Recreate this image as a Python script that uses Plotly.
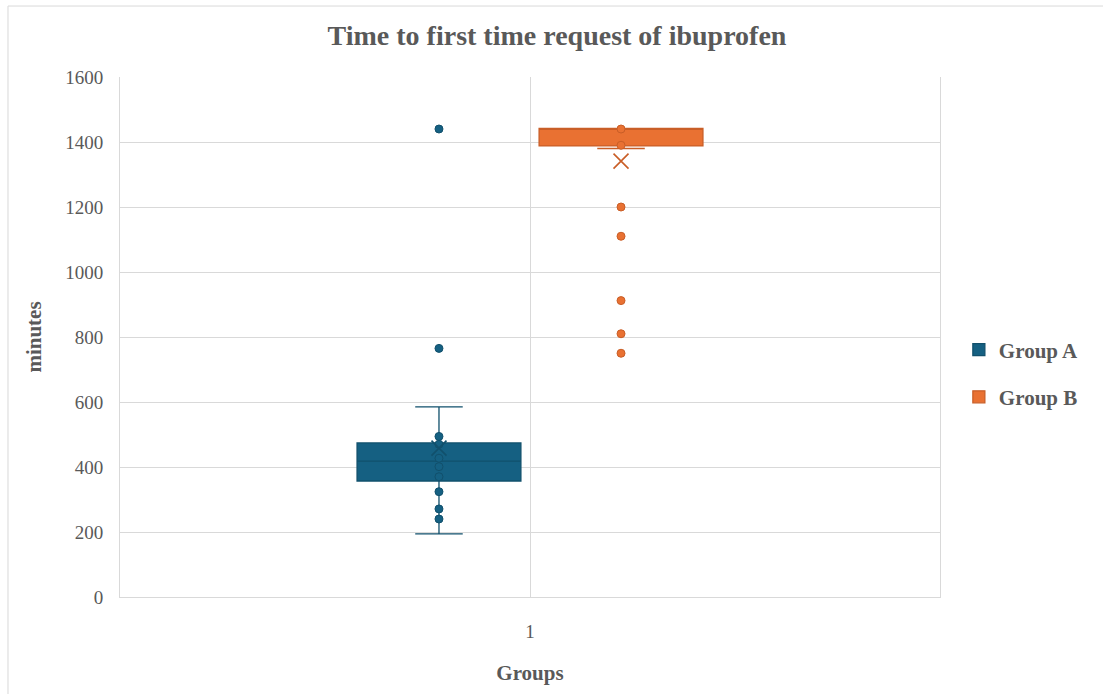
import plotly.graph_objects as go

category = ["1"]
groups = ["Group A", "Group B"]

# box statistics (minutes)
q1 = [357, 1388]
median = [418, 1440]
q3 = [474, 1442]
lower_whisker = [194, 1380]
upper_whisker = [585, 1440]
means = [458, 1341]

# individual points shown
points_a = [1440, 765, 494, 470, 427, 401, 370, 324, 271, 240]
points_b = [1440, 1390, 1200, 1110, 912, 810, 750]
points = [points_a, points_b]

fills = ["#156082", "#E97132"]
edges = ["#11506c", "#c95e27"]

FONT = "Liberation Serif"
GREY = "#595959"

fig = go.Figure()
for i, g in enumerate(groups):
    og = g
    fig.add_trace(go.Box(
        name=g, x=category, q1=[q1[i]], median=[median[i]], q3=[q3[i]],
        lowerfence=[lower_whisker[i]], upperfence=[upper_whisker[i]],
        offsetgroup=og, legendgroup=g, showlegend=True,
        fillcolor=fills[i], line=dict(color=edges[i], width=1.3),
        whiskerwidth=0.29, boxpoints=False, hoverinfo="skip"))
    fig.add_trace(go.Box(
        name=g, x=category * len(points[i]), y=points[i],
        offsetgroup=og, legendgroup=g, showlegend=False,
        fillcolor="rgba(0,0,0,0)", line=dict(color="rgba(0,0,0,0)", width=0),
        boxpoints="all", jitter=0, pointpos=0,
        marker=dict(color=fills[i], size=8, line=dict(color=edges[i], width=1)),
        hoverinfo="y"))
    fig.add_trace(go.Box(
        name=g, x=category, y=[means[i]],
        offsetgroup=og, legendgroup=g, showlegend=False,
        fillcolor="rgba(0,0,0,0)", line=dict(color="rgba(0,0,0,0)", width=0),
        boxpoints="all", jitter=0, pointpos=0,
        marker=dict(symbol="x-thin-open", size=15, color=edges[i],
                    line=dict(color=edges[i], width=1.6)),
        hoverinfo="y"))

fig.update_layout(
    width=1103, height=694,
    paper_bgcolor="white", plot_bgcolor="white",
    margin=dict(l=120, r=163, t=77, b=97),
    boxmode="group", boxgap=0.556, boxgroupgap=0.1,
    title=dict(text="<b>Time to first time request of ibuprofen</b>",
               font=dict(family=FONT, size=28, color=GREY),
               x=0.505, xanchor="center", y=0.95, yanchor="middle"),
    font=dict(family=FONT, color=GREY),
    legend=dict(x=1.023, xanchor="left", y=0.43, yanchor="middle",
                font=dict(family=FONT, size=21, color=GREY, weight="bold"),
                tracegroupgap=17, bgcolor="rgba(0,0,0,0)"),
    xaxis=dict(type="category", range=[-0.5, 0.5],
               showgrid=True, gridcolor="#d9d9d9", gridwidth=1,
               showline=True, linecolor="#d9d9d9", linewidth=1,
               ticks="", ticklabelstandoff=17,
               tickfont=dict(family=FONT, size=19, color=GREY),
               title=dict(text="<b>Groups</b>", standoff=24,
                          font=dict(family=FONT, size=21, color=GREY)),
               zeroline=False),
    yaxis=dict(range=[0, 1600], dtick=200, tick0=0,
               showgrid=True, gridcolor="#d9d9d9", gridwidth=1,
               showline=True, mirror=True, linecolor="#d9d9d9", linewidth=1,
               ticks="", ticklabelstandoff=12,
               tickfont=dict(family=FONT, size=19, color=GREY),
               title=dict(text="<b>minutes</b>", standoff=17,
                          font=dict(family=FONT, size=21, color=GREY)),
               zeroline=False),
    shapes=[dict(type="rect", xref="paper", yref="paper",
                 x0=-0.1366, x1=1.3, y0=-0.3, y1=1.1365,
                 line=dict(color="#d9d9d9", width=1), layer="below")],
)

fig.write_html("out.html",
               config={"displayModeBar": False},
               post_script="document.body.style.margin='0';document.body.style.overflow='hidden';")
